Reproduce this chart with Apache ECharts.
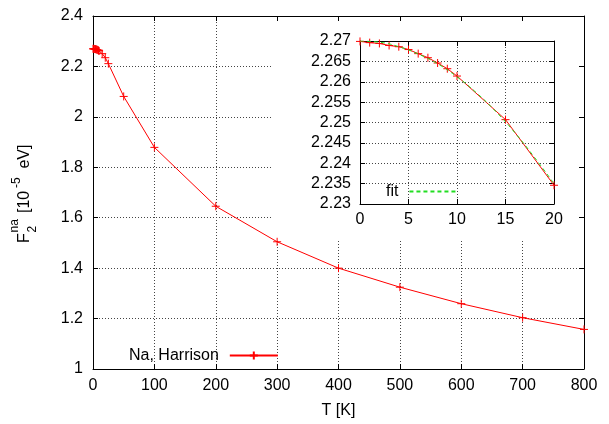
<!DOCTYPE html>
<html>
<head>
<meta charset="utf-8">
<script src="https://cdn.jsdelivr.net/npm/echarts@6/dist/echarts.min.js"></script>
<style>
html,body{margin:0;padding:0;background:#fff;}
#c{width:609px;height:424px;}
</style>
</head>
<body>
<div id="c"></div>
<script>
// Main curve: F2^na vs T (Na, Harrison)
const mainT = [0,1,2,3,4,5,6,7,8,9,10,15,20,25,50,100,200,300,400,500,600,700,800];
const mainF = [2.2699,2.2696,2.2694,2.2689,2.2686,2.2679,2.2669,2.2659,2.2646,2.2632,2.2614,2.2507,2.2346,2.211,2.081,1.879,1.6455,1.5046,1.400,1.3245,1.259,1.2035,1.157];
// Inset: low-temperature data
const insetT = [0,1,2,3,4,5,6,7,8,9,10,15,20];
const insetF = [2.2699,2.2696,2.2694,2.2689,2.2686,2.2679,2.2669,2.2659,2.2646,2.2632,2.2614,2.2507,2.2346];
// Inset: fit curve
const fitT = [0,2,4,6,8,10,12,14,16,18,20];
const fitF = [2.2700,2.2697,2.2686,2.2668,2.2644,2.2612,2.2573,2.2527,2.2474,2.2414,2.2350];
// Tick settings
const mainXTicks = {min:0, max:800, interval:100};
const mainYTicks = {min:1, max:2.4, interval:0.2};
const insetXTicks = {min:0, max:20, interval:5};
const insetYTicks = {min:2.23, max:2.27, interval:0.005};

const FONT = "'Liberation Sans', Arial, sans-serif";
const RED = '#ff0000';
const GREEN = '#22dd22';
const plus = 'path://M0,5L10,5M5,0L5,10';
const chart = echarts.init(document.getElementById('c'), null, {renderer:'canvas'});

function pair(xs, ys){ return xs.map((x,i)=>[x, ys[i]]); }

const dotted = {show:true, lineStyle:{color:'#444', width:1, type:[1,2]}};
const axisLineS = {show:true, onZero:false, lineStyle:{color:'#000', width:1}};
const tickIn = {show:true, inside:true, length:5, lineStyle:{color:'#000', width:1}};
const lbl = {color:'#000', fontSize:16, fontFamily:FONT};

function t(text, x, y, size){
  return {type:'text', x:x, y:y, style:{text:text, fontSize:size, fontFamily:FONT, fill:'#000', align:'left', verticalAlign:'middle'}};
}

const option = {
  animation:false,
  backgroundColor:'#fff',
  grid:[
    {left:93, right:25, top:16, bottom:54},
    {left:360, right:55, top:41, bottom:220}
  ],
  graphic:[
    {type:'rect', z:1, shape:{x:271, y:17, width:312, height:223}, style:{fill:'#fff'}},
    {type:'group', x:24.5, y:243, rotation:Math.PI/2, z:10, children:[
      t('F', 0, 0, 16),
      t('2', 10.5, 8, 12),
      t('na', 10.5, -9.5, 12),
      t('[10', 30, 0, 16),
      t('-5', 55, -8, 12),
      t(' eV]', 70, 0, 16)
    ]}
  ],
  legend:[
    {data:['Na, Harrison'], left:129, top:347.5, padding:0, itemWidth:48, itemHeight:10, align:'right',
     textStyle:{color:'#000', fontSize:16, fontFamily:FONT, padding:[0,6,0,0]}, selectedMode:false, z:10},
    {data:['fit'], left:386, top:183.5, padding:0, itemWidth:48, itemHeight:10, align:'right',
     textStyle:{color:'#000', fontSize:16, fontFamily:FONT, padding:[0,6,0,0]}, selectedMode:false, z:10}
  ],
  xAxis:[
    {type:'value', gridIndex:0, position:'bottom', min:mainXTicks.min, max:mainXTicks.max, interval:mainXTicks.interval,
     axisLine:axisLineS, axisTick:tickIn, splitLine:dotted, axisLabel:Object.assign({margin:9}, lbl),
     name:'T [K]', nameLocation:'middle', nameGap:34, nameTextStyle:{color:'#000', fontSize:16, fontFamily:FONT}},
    {type:'value', gridIndex:0, position:'top', min:mainXTicks.min, max:mainXTicks.max, interval:mainXTicks.interval, z:5,
     axisLine:axisLineS, axisTick:tickIn, splitLine:{show:false}, axisLabel:{show:false}},
    {type:'value', gridIndex:1, position:'bottom', min:insetXTicks.min, max:insetXTicks.max, interval:insetXTicks.interval, z:5,
     axisLine:axisLineS, axisTick:tickIn, splitLine:dotted, axisLabel:Object.assign({margin:8}, lbl)},
    {type:'value', gridIndex:1, position:'top', min:insetXTicks.min, max:insetXTicks.max, interval:insetXTicks.interval, z:5,
     axisLine:axisLineS, axisTick:tickIn, splitLine:{show:false}, axisLabel:{show:false}}
  ],
  yAxis:[
    {type:'value', gridIndex:0, position:'left', min:mainYTicks.min, max:mainYTicks.max, interval:mainYTicks.interval,
     axisLine:axisLineS, axisTick:tickIn, splitLine:dotted, axisLabel:Object.assign({margin:10}, lbl)},
    {type:'value', gridIndex:0, position:'right', min:mainYTicks.min, max:mainYTicks.max, interval:mainYTicks.interval, z:5,
     axisLine:axisLineS, axisTick:tickIn, splitLine:{show:false}, axisLabel:{show:false}},
    {type:'value', gridIndex:1, position:'left', min:insetYTicks.min, max:insetYTicks.max, interval:insetYTicks.interval, z:5,
     axisLine:axisLineS, axisTick:tickIn, splitLine:dotted, axisLabel:Object.assign({margin:9}, lbl)},
    {type:'value', gridIndex:1, position:'right', min:insetYTicks.min, max:insetYTicks.max, interval:insetYTicks.interval, z:5,
     axisLine:axisLineS, axisTick:tickIn, splitLine:{show:false}, axisLabel:{show:false}}
  ],
  series:[
    {name:'Na, Harrison', type:'line', xAxisIndex:0, yAxisIndex:0, z:6, data:pair(mainT, mainF),
     symbol:plus, symbolSize:8, showAllSymbol:true,
     lineStyle:{color:RED, width:1}, itemStyle:{color:RED, borderColor:RED, borderWidth:1},
     emphasis:{disabled:true}},
    {name:'inset data', type:'line', xAxisIndex:2, yAxisIndex:2, z:6, data:pair(insetT, insetF),
     symbol:plus, symbolSize:8, showAllSymbol:true,
     lineStyle:{color:RED, width:1}, itemStyle:{color:RED, borderColor:RED, borderWidth:1},
     emphasis:{disabled:true}},
    {name:'fit', type:'line', xAxisIndex:2, yAxisIndex:2, z:7, data:pair(fitT, fitF), smooth:true,
     symbol:'none', lineStyle:{color:GREEN, width:1, type:[4,3]}, itemStyle:{color:'rgba(0,0,0,0)'},
     emphasis:{disabled:true}}
  ]
};
chart.setOption(option);
</script>
</body>
</html>
